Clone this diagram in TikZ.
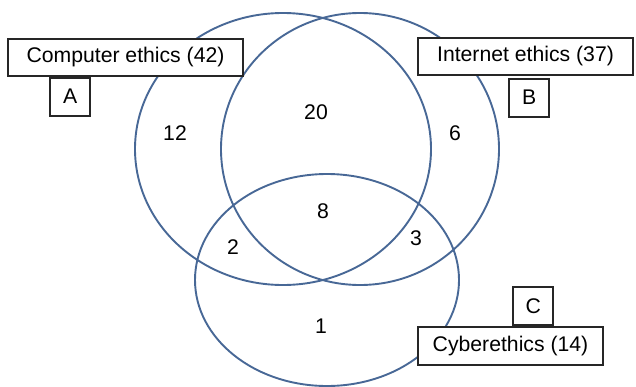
\documentclass[tikz,border=0pt]{standalone}
\usepackage{fontspec}
\setmainfont{Liberation Sans}
\usepackage{tikz}
\usetikzlibrary{positioning}

\begin{document}
\begin{tikzpicture}[
        x=0.5pt, y=-0.5pt,
        node distance=0pt,
        ring/.style={draw={rgb,255:red,72;green,104;blue,150}, line width=0.95pt},
        setbox/.style={
            rectangle, draw=black!85, fill=white, line width=0.85pt,
            inner sep=2pt, font=\fontsize{10.6}{12}\selectfont,
            minimum height=18.5pt
        },
        tagbox/.style={setbox, minimum width=20pt, minimum height=19pt},
        count/.style={font=\fontsize{10.6}{12}\selectfont}
    ]

    \useasboundingbox (0,0) rectangle (636,386);

    % --- Sets ---
    \draw[ring] (283,149) ellipse [x radius=148, y radius=136];
    \draw[ring] (360,149) ellipse [x radius=139, y radius=136];
    \draw[ring] (327,280) ellipse [x radius=132, y radius=106];

    % --- Counts ---
    \node[count] (n12) at (175,133) {12};
    \node[count] (n20) at (316,112) {20};
    \node[count] (n6)  at (455,133) {6};
    \node[count] (n8)  at (323,211) {8};
    \node[count] (n2)  at (233,247) {2};
    \node[count] (n3)  at (416,238) {3};
    \node[count] (n1)  at (321,326) {1};

    % --- Labels ---
    \node[setbox, minimum width=117.5pt] (competh) at (125.5,57.5) {Computer ethics (42)};
    \node[tagbox, below=0pt of competh.south west, xshift=31.5pt] (tagA) {A};

    \node[setbox, minimum width=107.5pt] (neteth) at (525.5,56.5) {Internet ethics (37)};
    \node[tagbox, below=1pt of neteth.south west, xshift=56pt] (tagB) {B};

    \node[setbox, minimum width=92.5pt, minimum height=19pt] (cybeth) at (510.5,346) {Cyberethics (14)};
    \node[tagbox, above=0pt of cybeth.north west, xshift=58pt] (tagC) {C};

\end{tikzpicture}
\end{document}
